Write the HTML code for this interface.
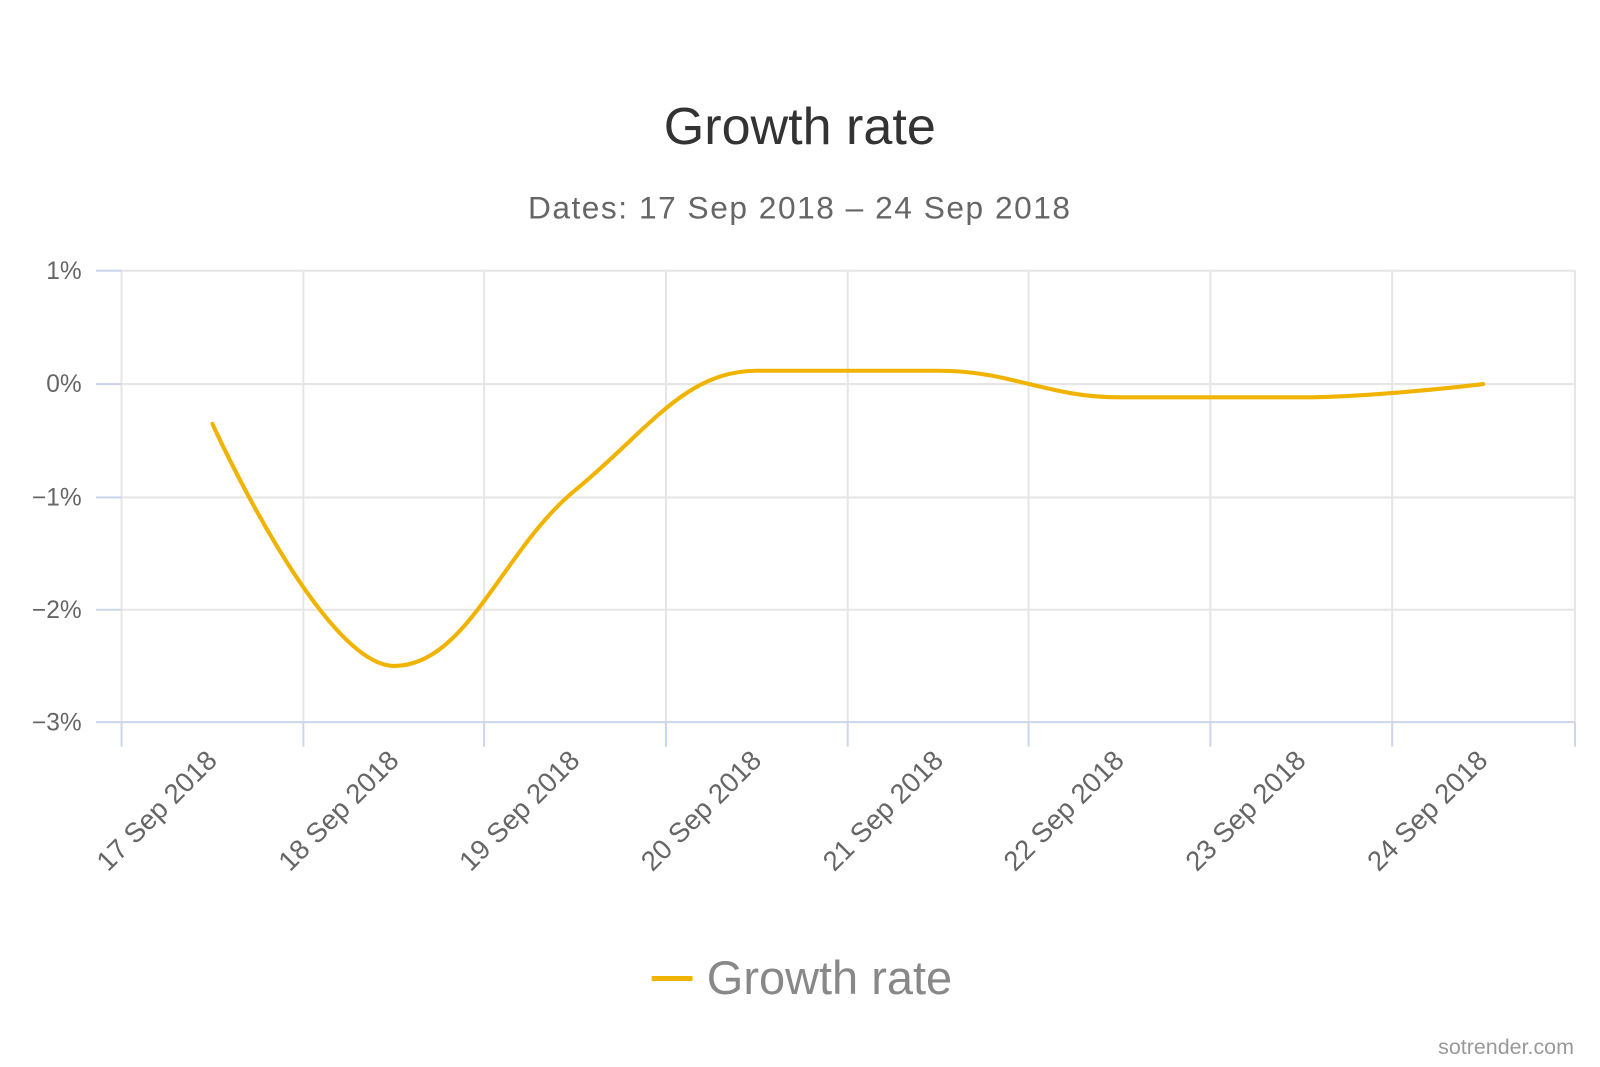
<!DOCTYPE html>
<html><head><meta charset="utf-8"><style>
body{margin:0;background:#fff}
svg{display:block;font-family:"Liberation Sans","DejaVu Sans",sans-serif}
</style></head><body>
<svg width="1600" height="1067" viewBox="0 0 1600 1067" xmlns="http://www.w3.org/2000/svg">
<rect width="1600" height="1067" fill="#fff"/>
<g transform="scale(1.0214)">
<text x="783" y="141" text-anchor="middle" font-size="51" fill="#333">Growth rate</text>
<text x="783" y="214" text-anchor="middle" font-size="31" fill="#666" letter-spacing="1.5">Dates: 17 Sep 2018 – 24 Sep 2018</text>
<g stroke="#e6e6e6" stroke-width="2">
<line x1="119" y1="265" x2="1542" y2="265"/>
<line x1="119" y1="376" x2="1542" y2="376"/>
<line x1="119" y1="487" x2="1542" y2="487"/>
<line x1="119" y1="597" x2="1542" y2="597"/>
<line x1="297" y1="265" x2="297" y2="707"/>
<line x1="474" y1="265" x2="474" y2="707"/>
<line x1="652" y1="265" x2="652" y2="707"/>
<line x1="830" y1="265" x2="830" y2="707"/>
<line x1="1007" y1="265" x2="1007" y2="707"/>
<line x1="1185" y1="265" x2="1185" y2="707"/>
<line x1="1363" y1="265" x2="1363" y2="707"/>
<line x1="1542" y1="265" x2="1542" y2="707"/>
<line x1="119" y1="265" x2="119" y2="707"/>
</g>
<g stroke="#ccd6eb" stroke-width="2">
<line x1="119" y1="707" x2="1542" y2="707"/>
<line x1="94" y1="265" x2="119" y2="265"/>
<line x1="94" y1="376" x2="119" y2="376"/>
<line x1="94" y1="487" x2="119" y2="487"/>
<line x1="94" y1="597" x2="119" y2="597"/>
<line x1="94" y1="707" x2="119" y2="707"/>
<line x1="119" y1="707" x2="119" y2="731"/>
<line x1="297" y1="707" x2="297" y2="731"/>
<line x1="474" y1="707" x2="474" y2="731"/>
<line x1="652" y1="707" x2="652" y2="731"/>
<line x1="830" y1="707" x2="830" y2="731"/>
<line x1="1007" y1="707" x2="1007" y2="731"/>
<line x1="1185" y1="707" x2="1185" y2="731"/>
<line x1="1363" y1="707" x2="1363" y2="731"/>
<line x1="1542" y1="707" x2="1542" y2="731"/>
</g>
<g font-size="24" fill="#666" text-anchor="end">
<text x="80" y="273">1%</text>
<text x="80" y="384">0%</text>
<text x="80" y="495">−1%</text>
<text x="80" y="605">−2%</text>
<text x="80" y="715">−3%</text>
</g>
<g font-size="27" fill="#666" text-anchor="end">
<text transform="translate(214,746) rotate(-45)">17 Sep 2018</text>
<text transform="translate(392,746) rotate(-45)">18 Sep 2018</text>
<text transform="translate(569,746) rotate(-45)">19 Sep 2018</text>
<text transform="translate(747,746) rotate(-45)">20 Sep 2018</text>
<text transform="translate(925,746) rotate(-45)">21 Sep 2018</text>
<text transform="translate(1102,746) rotate(-45)">22 Sep 2018</text>
<text transform="translate(1280,746) rotate(-45)">23 Sep 2018</text>
<text transform="translate(1458,746) rotate(-45)">24 Sep 2018</text>
</g>
<path d="M208 415 C208 415,315 652,386 652 C457 652,492 538,563 480 C634 422,670 363,741 363 C812 363,848 363,919 363 C990 363,1025 389,1096 389 C1167 389,1203 389,1274 389 C1345 389,1452 376,1452 376" fill="none" stroke="#f0b400" stroke-width="4" stroke-linecap="round" stroke-linejoin="round"/>
<line x1="638" y1="958" x2="678" y2="958" stroke="#f0b400" stroke-width="5"/>
<text x="692" y="973" font-size="46" fill="#888">Growth rate</text>
<text x="1541" y="1032" text-anchor="end" font-size="21" fill="#999">sotrender.com</text>
</g>
</svg>
</body></html>
